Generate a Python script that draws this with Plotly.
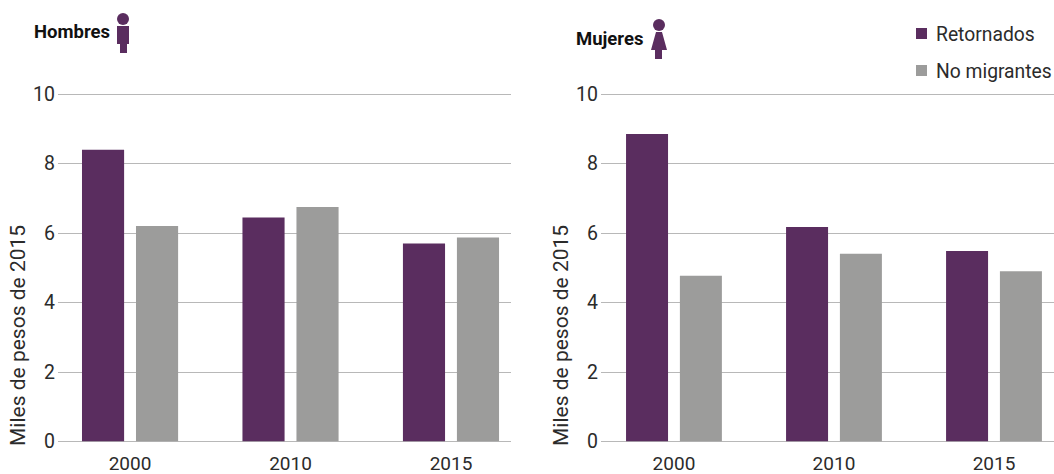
import plotly.graph_objects as go

W, H = 1054, 474
years = ["2000", "2010", "2015"]
series_names = ["Retornados", "No migrantes"]
hombres_retornados = [8.4, 6.45, 5.7]
hombres_no_migrantes = [6.2, 6.75, 5.87]
mujeres_retornados = [8.85, 6.17, 5.48]
mujeres_no_migrantes = [4.77, 5.4, 4.9]
y_ticks = [0, 2, 4, 6, 8, 10]
y_title = "Miles de pesos de 2015"
PURPLE, GREY, GRID, TEXT = "#5a2d5f", "#9c9c9b", "#b8b8b8", "#2b2b2b"
FONT = "Roboto"


def px(x):
    return x / W


def py(y):
    return 1 - y / H


fig = go.Figure()
for axis, a, b in [("", hombres_retornados, hombres_no_migrantes),
                   ("2", mujeres_retornados, mujeres_no_migrantes)]:
    for name, vals, col in zip(series_names, (a, b), (PURPLE, GREY)):
        fig.add_trace(go.Bar(x=years, y=vals, name=name, marker_color=col, marker_line_width=0,
                             xaxis="x" + axis, yaxis="y" + axis, showlegend=False))

xcommon = dict(type="category", showgrid=False, showline=False, ticks="", zeroline=False, automargin=False,
               tickfont=dict(family=FONT, size=19, color=TEXT), ticklabelstandoff=8)
ycommon = dict(range=[0, 10.03], tickvals=y_ticks, showgrid=True, gridcolor=GRID, gridwidth=1, automargin=False,
               zeroline=True, zerolinecolor=GRID, zerolinewidth=1, showline=False, ticks="",
               tickfont=dict(family=FONT, size=19.5, color=TEXT), ticklabelstandoff=2)

fig.update_layout(
    width=W, height=H, margin=dict(l=0, r=0, t=0, b=0, autoexpand=False), paper_bgcolor="white", plot_bgcolor="white",
    barmode="group", bargap=0.327, bargroupgap=0.22, showlegend=False,
    font=dict(family=FONT, color=TEXT),
    xaxis=dict(domain=[px(58), px(511)], range=[-0.449, 2.374], anchor="y", **xcommon),
    yaxis=dict(domain=[py(441.5), py(93)], anchor="x", **ycommon),
    xaxis2=dict(domain=[px(601), px(1054)], range=[-0.456, 2.375], anchor="y2", **xcommon),
    yaxis2=dict(domain=[py(441.5), py(93)], anchor="x2", **ycommon),
)

ann = []
for x in (18, 561):
    ann.append(dict(text=y_title, x=px(x), y=py(336), xref="paper", yref="paper", textangle=-90,
                    yanchor="middle", xanchor="center",
                    showarrow=False, font=dict(family=FONT, size=21, color=TEXT)))
ann.append(dict(text="<b>Hombres</b>", x=px(32), y=py(32), xref="paper", yref="paper", xanchor="left", yanchor="middle",
                showarrow=False, font=dict(family=FONT, size=18.5, color="#111")))
ann.append(dict(text="<b>Mujeres</b>", x=px(574), y=py(39), xref="paper", yref="paper", xanchor="left", yanchor="middle",
                showarrow=False, font=dict(family=FONT, size=18.5, color="#111")))
shapes = []
for name, col, yc in zip(series_names, (PURPLE, GREY), (34, 71)):
    ann.append(dict(text=name, x=px(934), y=py(yc), xref="paper", yref="paper", xanchor="left", yanchor="middle",
                    showarrow=False, font=dict(family=FONT, size=19.3, color=TEXT)))
    shapes.append(dict(type="rect", xref="paper", yref="paper", x0=px(916), x1=px(927),
                       y0=py(yc - 6), y1=py(yc + 5), fillcolor=col, line_width=0))


def poly(points):
    return "M" + "L".join(f"{px(x):.5f},{py(y):.5f}" for x, y in points) + "Z"


# pictograms: man
shapes.append(dict(type="circle", xref="paper", yref="paper", x0=px(117), x1=px(129), y0=py(25), y1=py(13),
                   fillcolor=PURPLE, line_width=0))
shapes.append(dict(type="path", xref="paper", yref="paper", fillcolor=PURPLE, line_width=0,
                   path=poly([(117, 26), (129, 26), (129, 44), (127, 44), (127, 53), (120, 53), (120, 44), (117, 44)])))
# pictograms: woman
shapes.append(dict(type="circle", xref="paper", yref="paper", x0=px(653), x1=px(665), y0=py(31), y1=py(19),
                   fillcolor=PURPLE, line_width=0))
shapes.append(dict(type="path", xref="paper", yref="paper", fillcolor=PURPLE, line_width=0,
                   path=poly([(656, 32), (662, 32), (667, 50), (662, 50), (662, 59), (655, 59), (655, 50), (651, 50)])))

fig.update_layout(annotations=ann, shapes=shapes)
fig.write_html("out.html", config=dict(displayModeBar=False),
               post_script="document.body.style.margin='0';document.body.style.overflow='hidden';")
